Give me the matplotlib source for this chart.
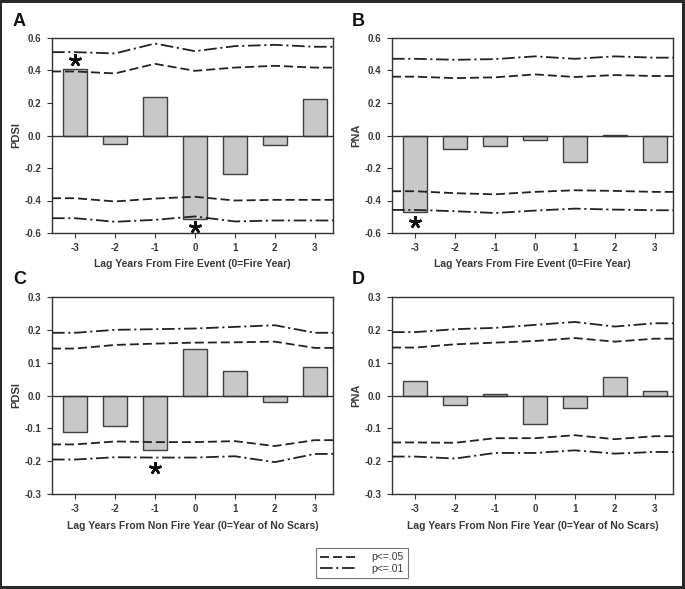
import numpy as np
import matplotlib
matplotlib.use("Agg")
import matplotlib.pyplot as plt
from matplotlib.patches import Rectangle
from matplotlib.lines import Line2D

plt.rcParams['font.family'] = ['Liberation Sans', 'DejaVu Sans']
plt.rcParams['font.weight'] = 'bold'

lags = [-3, -2, -1, 0, 1, 2, 3]

# panel A: PDSI around fire years
a_bars = [0.408, -0.053, 0.234, -0.515, -0.238, -0.057, 0.222]
a_p05_hi = [0.394, 0.382, 0.441, 0.398, 0.418, 0.429, 0.418]
a_p01_hi = [0.513, 0.505, 0.566, 0.519, 0.550, 0.558, 0.546]
a_p05_lo = [-0.386, -0.406, -0.388, -0.377, -0.400, -0.396, -0.396]
a_p01_lo = [-0.509, -0.531, -0.519, -0.498, -0.529, -0.523, -0.523]
a_sig_x = [-3, 0]
a_sig_y = [0.466, -0.560]

# panel B: PNA around fire years
b_bars = [-0.468, -0.082, -0.064, -0.025, -0.164, 0.003, -0.162]
b_p05_hi = [0.362, 0.353, 0.358, 0.376, 0.360, 0.372, 0.366]
b_p01_hi = [0.472, 0.466, 0.470, 0.487, 0.472, 0.487, 0.479]
b_p05_lo = [-0.343, -0.355, -0.362, -0.347, -0.337, -0.341, -0.347]
b_p01_lo = [-0.458, -0.466, -0.477, -0.462, -0.450, -0.456, -0.460]
b_sig_x = [-3]
b_sig_y = [-0.534]

# panel C: PDSI around non fire years
c_bars = [-0.111, -0.092, -0.167, 0.142, 0.075, -0.020, 0.087]
c_p05_hi = [0.143, 0.154, 0.158, 0.161, 0.162, 0.164, 0.145]
c_p01_hi = [0.191, 0.200, 0.202, 0.204, 0.209, 0.214, 0.191]
c_p05_lo = [-0.149, -0.140, -0.142, -0.142, -0.139, -0.154, -0.136]
c_p01_lo = [-0.195, -0.188, -0.189, -0.189, -0.185, -0.203, -0.178]
c_sig_x = [-1]
c_sig_y = [-0.221]

# panel D: PNA around non fire years
d_bars = [0.044, -0.029, 0.005, -0.088, -0.038, 0.056, 0.015]
d_p05_hi = [0.146, 0.156, 0.161, 0.166, 0.175, 0.164, 0.173]
d_p01_hi = [0.193, 0.202, 0.206, 0.215, 0.224, 0.210, 0.220]
d_p05_lo = [-0.143, -0.144, -0.130, -0.130, -0.121, -0.133, -0.124]
d_p01_lo = [-0.186, -0.192, -0.175, -0.175, -0.167, -0.177, -0.172]
d_sig_x = []
d_sig_y = []

W, H = 685, 589
fig = plt.figure(figsize=(W / 100, H / 100), dpi=100)
fig.patch.set_facecolor('#2a2a2a')
fig.add_artist(Rectangle((2 / W, 3 / H), (W - 5) / W, (H - 6) / H,
                         transform=fig.transFigure, facecolor='white',
                         edgecolor='none', zorder=0))

dark = '#222222'
txt = '#3a3a3a'
xlim = (-3.58, 3.46)


def panel(rect, bars, p05_hi, p01_hi, p05_lo, p01_lo, sig_x, sig_y,
          ylim, yticks, ylabel, xlabel, letter, letter_pos):
    ax = fig.add_axes(rect)
    ax.bar(lags, bars, width=0.6, color='#c8c8c8', edgecolor='#404040',
           linewidth=1.0, zorder=2)
    ax.axhline(0, color='#333333', lw=1.0, zorder=3)
    xs = np.r_[xlim[0], lags, xlim[1]]
    for vals, ls in [(p05_hi, (0, (5, 2.2))), (p05_lo, (0, (5, 2.2))),
                     (p01_hi, (0, (7, 2, 1.2, 2))), (p01_lo, (0, (7, 2, 1.2, 2)))]:
        ys = np.r_[vals[0], vals, vals[-1]]
        ax.plot(xs, ys, color=dark, lw=1.3, ls=ls, zorder=4)
    if sig_x:
        ax.plot(sig_x, sig_y, ls='none', marker=(5, 2, 0), ms=9, mew=1.8,
                color='#111111', zorder=5)
    ax.set_xlim(*xlim)
    ax.set_ylim(*ylim)
    ax.set_xticks(lags)
    ax.set_xticklabels([str(v) for v in lags])
    ax.set_yticks(yticks)
    ax.set_yticklabels(['%.1f' % v for v in yticks])
    ax.tick_params(direction='out', length=3.5, width=0.8, colors='#333333',
                   labelsize=7, labelcolor=txt, pad=4)
    for s in ax.spines.values():
        s.set_color('#333333')
        s.set_linewidth(1.0)
    ax.set_ylabel(ylabel, fontsize=8, fontweight='bold', color=txt)
    ax.yaxis.set_label_coords(-0.11, 0.5)
    ax.set_xlabel(xlabel, fontsize=7.5, fontweight='bold', color=txt)
    ax.xaxis.set_label_coords(0.5, -0.135)
    fig.text(letter_pos[0] / W, 1 - letter_pos[1] / H, letter, fontsize=13,
             fontweight='bold', color='#111111', ha='left', va='center')
    return ax


top_rect_y = 1 - 233 / H
bot_rect_y = 1 - 494 / H
ax_w = 281 / W
top_h = 195 / H
bot_h = 197 / H
ticks6 = [0.6, 0.4, 0.2, 0.0, -0.2, -0.4, -0.6]
ticks3 = [0.3, 0.2, 0.1, 0.0, -0.1, -0.2, -0.3]
fire_lab = 'Lag Years From Fire Event (0=Fire Year)'
non_lab = 'Lag Years From Non Fire Year (0=Year of No Scars)'

panel([52 / W, top_rect_y, ax_w, top_h], a_bars, a_p05_hi, a_p01_hi,
      a_p05_lo, a_p01_lo, a_sig_x, a_sig_y, (-0.6, 0.6), ticks6, 'PDSI',
      fire_lab, 'A', (13, 21))
panel([392 / W, top_rect_y, ax_w, top_h], b_bars, b_p05_hi, b_p01_hi,
      b_p05_lo, b_p01_lo, b_sig_x, b_sig_y, (-0.6, 0.6), ticks6, 'PNA',
      fire_lab, 'B', (352, 21))
panel([52 / W, bot_rect_y, ax_w, bot_h], c_bars, c_p05_hi, c_p01_hi,
      c_p05_lo, c_p01_lo, c_sig_x, c_sig_y, (-0.3, 0.3), ticks3, 'PDSI',
      non_lab, 'C', (13, 280))
panel([392 / W, bot_rect_y, ax_w, bot_h], d_bars, d_p05_hi, d_p01_hi,
      d_p05_lo, d_p01_lo, d_sig_x, d_sig_y, (-0.3, 0.3), ticks3, 'PNA',
      non_lab, 'D', (352, 280))

handles = [Line2D([], [], color=dark, lw=1.3, ls=(0, (5, 2.2))),
           Line2D([], [], color=dark, lw=1.3, ls=(0, (7, 2, 1.2, 2)))]
leg = fig.legend(handles, ['p<=.05', 'p<=.01'], loc='center',
                 bbox_to_anchor=(362 / W, 1 - 563 / H), fontsize=7.5,
                 frameon=True, fancybox=False, handlelength=3.4,
                 handletextpad=1.5, borderpad=0.45, labelspacing=0.1,
                 borderaxespad=0)
leg.get_frame().set_edgecolor('#555555')
leg.get_frame().set_linewidth(0.8)
for t in leg.get_texts():
    t.set_fontweight('normal')
    t.set_color(txt)

fig.savefig('out.png', dpi=100, facecolor=fig.get_facecolor())
